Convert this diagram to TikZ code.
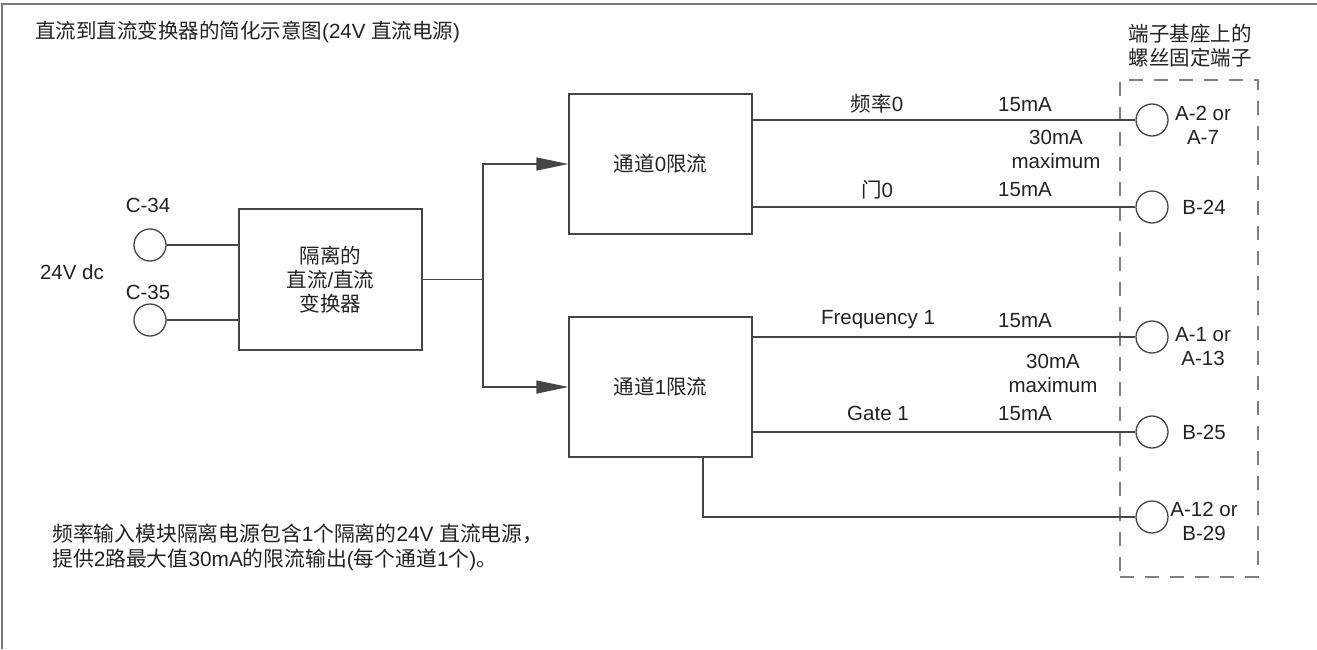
\documentclass[tikz,border=0pt]{standalone}
\usepackage{fontspec}
\setmainfont{Liberation Sans}
\newfontfamily\cjkfont{Noto Sans CJK SC}
\newcommand{\zhc}[1]{{\cjkfont #1}}
\usetikzlibrary{arrows.meta,calc}
\definecolor{txt}{HTML}{222222}
\definecolor{lncol}{HTML}{454545}
\definecolor{frm}{HTML}{7A7A7A}
\definecolor{dsh}{HTML}{808080}
\begin{document}
\begin{tikzpicture}[x=1pt,y=-1pt,
  every node/.style={font=\fontsize{20.5}{24}\selectfont, text=txt},
  ln/.style={draw=lncol, line width=1.4pt},
  blk/.style={draw=lncol, line width=1.4pt, rectangle, inner sep=0pt, align=center},
  term/.style={draw=lncol, line width=1.3pt, circle, minimum size=32pt, inner sep=0pt},
  lbl/.style={inner sep=0pt, align=center},
  arr/.style={ln, -{Triangle[length=32pt,width=13pt]}}]
\useasboundingbox (0,0) rectangle (1317,649);
% frame
\draw[draw=frm, line width=2pt] (2,649) -- (2,4) -- (1317,4);
% title
\node[lbl, anchor=west] (title) at (35,32) {\zhc{直流到直流变换器的简化示意图}(24V \zhc{直流电源})};
% dashed terminal box
\node[draw=dsh, line width=1.3pt, dash pattern=on 14pt off 11pt, rectangle, minimum width=138pt, minimum height=497pt, inner sep=0pt] (tb) at (1189,328.5) {};
\node[lbl] (tbh) at (1190,45.5) {\zhc{端子基座上的}\\\zhc{螺丝固定端子}};
% left terminals
\node[term] (c34) at (150,245) {};
\node[term] (c35) at (150,320) {};
\node[lbl] (lc34) at (148,205) {C-34};
\node[lbl] (lc35) at (148,292) {C-35};
\node[lbl] (l24) at (72,272) {24V dc};
% converter
\node[blk, minimum width=183pt, minimum height=141pt] (conv) at (330.5,279.5) {\zhc{隔离的}\\\zhc{直流}/\zhc{直流}\\\zhc{变换器}};
% channel boxes
\node[blk, minimum width=183pt, minimum height=140pt] (ch0) at (660.5,164) {\zhc{通道}0\zhc{限流}};
\node[blk, minimum width=183pt, minimum height=140pt] (ch1) at (660.5,387) {\zhc{通道}1\zhc{限流}};
% right terminals
\node[term] (t1) at (1152,120) {};
\node[term] (t2) at (1152,207) {};
\node[term] (t3) at (1152,337) {};
\node[term] (t4) at (1152,432) {};
\node[term] (t5) at (1152,517) {};
\node[lbl] (lt1) at (1203,125) {A-2 or\\A-7};
\node[lbl] (lt2) at (1204,207) {B-24};
\node[lbl] (lt3) at (1203,347) {A-1 or\\A-13};
\node[lbl] (lt4) at (1204,432) {B-25};
\node[lbl] (lt5) at (1204,521) {A-12 or\\B-29};
% connectors left
\draw[ln] (c34.east) -- (c34.east -| conv.west);
\draw[ln] (c35.east) -- (c35.east -| conv.west);
\coordinate (jn) at (483,279.5);
\draw[ln] (conv.east) -- (jn);
\draw[arr] (jn) |- (ch0.west);
\draw[arr] (jn) |- (ch1.west);
% outputs
\draw[ln] (ch0.east |- t1) -- (t1.west);
\draw[ln] (ch0.east |- t2) -- (t2.west);
\draw[ln] (ch1.east |- t3) -- (t3.west);
\draw[ln] (ch1.east |- t4) -- (t4.west);
\coordinate (tap) at (703,517);
\draw[ln] (tap |- ch1.south) -- (tap) -- (t5.west);
% labels on lines
\node[lbl] (f0) at (877,104) {\zhc{频率}0};
\node[lbl] (f0c) at (1025,105) {15mA};
\node[lbl] (m0) at (1056,149) {30mA\\maximum};
\node[lbl] (g0) at (877,190) {\zhc{门}0};
\node[lbl] (g0c) at (1025,190) {15mA};
\node[lbl] (f1) at (878,320) {Frequency 1};
\node[lbl] (f1c) at (1025,321) {15mA};
\node[lbl] (m1) at (1053,373) {30mA\\maximum};
\node[lbl] (g1) at (878,413) {Gate 1};
\node[lbl] (g1c) at (1025,414) {15mA};
% note
\node[lbl, anchor=west, align=left, font=\fontsize{20.8}{25}\selectfont] (note) at (52,547.5) {\zhc{频率输入模块隔离电源包含}1\zhc{个隔离的}24V \zhc{直流电源，}\\\zhc{提供}2\zhc{路最大值}30mA\zhc{的限流输出}(\zhc{每个通道}1\zhc{个})\zhc{。}};
\end{tikzpicture}
\end{document}
